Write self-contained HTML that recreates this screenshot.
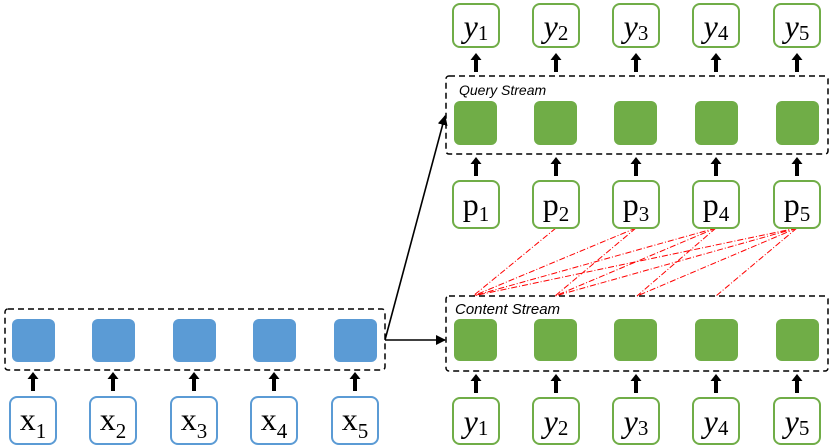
<!DOCTYPE html>
<html><head><meta charset="utf-8"><style>html,body{margin:0;padding:0;background:#fff}svg{display:block}</style></head>
<body>
<svg width="830" height="448" viewBox="0 0 830 448" xmlns="http://www.w3.org/2000/svg">
<defs>
<marker id="ah" markerWidth="10" markerHeight="10" refX="9" refY="5" orient="auto" markerUnits="userSpaceOnUse"><path d="M0,0 L10,5 L0,10 z" fill="#000"/></marker>
<g id="ua"><rect x="-2" y="6" width="4" height="13" fill="#000"/><path d="M-5.5,7 L0,0 L5.5,7 z" fill="#000"/></g>
</defs>
<g stroke="#f00" stroke-width="1" stroke-dasharray="6,2,1,2" fill="none">
<line x1="556" y1="228" x2="473" y2="296"/>
<line x1="636" y1="228" x2="473" y2="296"/>
<line x1="636" y1="228" x2="555" y2="296"/>
<line x1="716" y1="228" x2="473" y2="296"/>
<line x1="716" y1="228" x2="555" y2="296"/>
<line x1="716" y1="228" x2="637" y2="296"/>
<line x1="797" y1="228" x2="473" y2="296"/>
<line x1="797" y1="228" x2="555" y2="296"/>
<line x1="797" y1="228" x2="637" y2="296"/>
<line x1="797" y1="228" x2="716" y2="296"/>
</g>
<g fill="none" stroke="#000" stroke-width="1.5" stroke-dasharray="6,4">
<rect x="446" y="76" width="382" height="78" rx="3"/>
<rect x="446" y="296" width="382" height="75" rx="3"/>
<rect x="5" y="309" width="380" height="61" rx="3"/>
</g>
<text x="459" y="95" font-family="Liberation Sans, sans-serif" font-style="italic" font-size="14" fill="#000">Query Stream</text>
<text x="455" y="314" font-family="Liberation Sans, sans-serif" font-style="italic" font-size="15" fill="#000">Content Stream</text>
<g stroke="#000" stroke-width="1.6" fill="none">
<line x1="385" y1="340" x2="445" y2="116" marker-end="url(#ah)"/>
<line x1="385" y1="340" x2="445" y2="340" marker-end="url(#ah)"/>
</g>
<g fill="#70ad47">
<rect x="454" y="101" width="43" height="44" rx="6"/><rect x="534" y="101" width="43" height="44" rx="6"/><rect x="614" y="101" width="43" height="44" rx="6"/><rect x="695" y="101" width="43" height="44" rx="6"/><rect x="776" y="101" width="43" height="44" rx="6"/>
<rect x="454" y="319" width="43" height="42" rx="6"/><rect x="534" y="319" width="43" height="42" rx="6"/><rect x="614" y="319" width="43" height="42" rx="6"/><rect x="695" y="319" width="43" height="42" rx="6"/><rect x="776" y="319" width="43" height="42" rx="6"/>
</g>
<g fill="#5b9bd5">
<rect x="12" y="319" width="43" height="43" rx="6"/><rect x="92" y="319" width="43" height="43" rx="6"/><rect x="173" y="319" width="43" height="43" rx="6"/><rect x="253" y="319" width="43" height="43" rx="6"/><rect x="334" y="319" width="43" height="43" rx="6"/>
</g>
<g fill="#fff" stroke="#70ad47" stroke-width="2">
<rect x="453" y="4" width="46" height="43" rx="7"/><rect x="533" y="4" width="46" height="43" rx="7"/><rect x="613" y="4" width="46" height="43" rx="7"/><rect x="693" y="4" width="46" height="43" rx="7"/><rect x="774" y="4" width="46" height="43" rx="7"/>
<rect x="453" y="181" width="46" height="47" rx="7"/><rect x="533" y="181" width="46" height="47" rx="7"/><rect x="613" y="181" width="46" height="47" rx="7"/><rect x="693" y="181" width="46" height="47" rx="7"/><rect x="774" y="181" width="46" height="47" rx="7"/>
<rect x="453" y="398" width="46" height="46" rx="7"/><rect x="533" y="398" width="46" height="46" rx="7"/><rect x="613" y="398" width="46" height="46" rx="7"/><rect x="693" y="398" width="46" height="46" rx="7"/><rect x="774" y="398" width="46" height="46" rx="7"/>
</g>
<g fill="#fff" stroke="#5b9bd5" stroke-width="2">
<rect x="10" y="397" width="46" height="47" rx="7"/><rect x="90" y="397" width="46" height="47" rx="7"/><rect x="171" y="397" width="46" height="47" rx="7"/><rect x="251" y="397" width="46" height="47" rx="7"/><rect x="332" y="397" width="46" height="47" rx="7"/>
</g>
<use href="#ua" x="476" y="53"/><use href="#ua" x="556" y="53"/><use href="#ua" x="636" y="53"/><use href="#ua" x="716" y="53"/><use href="#ua" x="797" y="53"/>
<use href="#ua" x="476" y="157"/><use href="#ua" x="556" y="157"/><use href="#ua" x="636" y="157"/><use href="#ua" x="716" y="157"/><use href="#ua" x="797" y="157"/>
<use href="#ua" x="476" y="374"/><use href="#ua" x="556" y="374"/><use href="#ua" x="636" y="374"/><use href="#ua" x="716" y="374"/><use href="#ua" x="797" y="374"/>
<use href="#ua" x="33" y="372"/><use href="#ua" x="113" y="372"/><use href="#ua" x="194" y="372"/><use href="#ua" x="274" y="372"/><use href="#ua" x="355" y="372"/>
<g font-family="Liberation Serif, serif" font-size="32" fill="#000" text-anchor="middle">
<text x="476" y="37"><tspan font-style="italic">y</tspan><tspan font-size="21" dy="3">1</tspan></text>
<text x="556" y="37"><tspan font-style="italic">y</tspan><tspan font-size="21" dy="3">2</tspan></text>
<text x="636" y="37"><tspan font-style="italic">y</tspan><tspan font-size="21" dy="3">3</tspan></text>
<text x="716" y="37"><tspan font-style="italic">y</tspan><tspan font-size="21" dy="3">4</tspan></text>
<text x="797" y="37"><tspan font-style="italic">y</tspan><tspan font-size="21" dy="3">5</tspan></text>
<text x="476" y="215">p<tspan font-size="21" dy="6">1</tspan></text>
<text x="556" y="215">p<tspan font-size="21" dy="6">2</tspan></text>
<text x="636" y="215">p<tspan font-size="21" dy="6">3</tspan></text>
<text x="716" y="215">p<tspan font-size="21" dy="6">4</tspan></text>
<text x="797" y="215">p<tspan font-size="21" dy="6">5</tspan></text>
<text x="476" y="432"><tspan font-style="italic">y</tspan><tspan font-size="21" dy="3">1</tspan></text>
<text x="556" y="432"><tspan font-style="italic">y</tspan><tspan font-size="21" dy="3">2</tspan></text>
<text x="636" y="432"><tspan font-style="italic">y</tspan><tspan font-size="21" dy="3">3</tspan></text>
<text x="716" y="432"><tspan font-style="italic">y</tspan><tspan font-size="21" dy="3">4</tspan></text>
<text x="797" y="432"><tspan font-style="italic">y</tspan><tspan font-size="21" dy="3">5</tspan></text>
<text x="33" y="430">x<tspan font-size="21" dy="8">1</tspan></text>
<text x="113" y="430">x<tspan font-size="21" dy="8">2</tspan></text>
<text x="194" y="430">x<tspan font-size="21" dy="8">3</tspan></text>
<text x="274" y="430">x<tspan font-size="21" dy="8">4</tspan></text>
<text x="355" y="430">x<tspan font-size="21" dy="8">5</tspan></text>
</g>
</svg>
</body></html>
